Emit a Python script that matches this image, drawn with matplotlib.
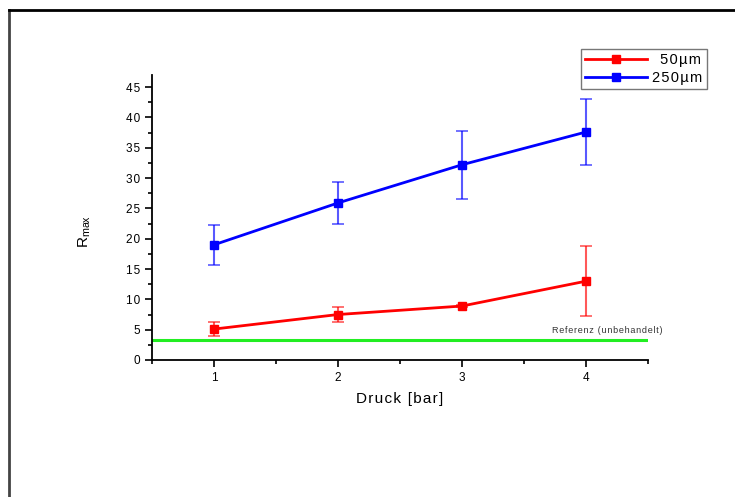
import matplotlib

matplotlib.use("Agg")
import matplotlib.pyplot as plt
from matplotlib.lines import Line2D
from matplotlib.ticker import FuncFormatter, MultipleLocator

plt.rcParams["font.family"] = ["Liberation Sans", "DejaVu Sans"]

# data
druck = [1, 2, 3, 4]
r_50 = [5.1, 7.5, 8.9, 13.0]
r_50_lo = [4.0, 6.2, 8.7, 7.3]
r_50_hi = [6.2, 8.7, 9.1, 18.8]
r_250 = [19.0, 25.9, 32.2, 37.6]
r_250_lo = [15.7, 22.4, 26.6, 32.1]
r_250_hi = [22.3, 29.3, 37.7, 43.0]
referenz = 3.3

W, H = 735, 497


def spaced(s):
    # the original software draws text with wide letter spacing
    return "\u200a".join(s)


fig = plt.figure(figsize=(W / 100, H / 100), dpi=100)
ax = fig.add_axes([152 / W, 1 - 360 / H, (648 - 152) / W, (360 - 75) / H])


def err(v, lo, hi):
    return [[a - b for a, b in zip(v, lo)], [b - a for a, b in zip(v, hi)]]


for y, lo, hi, col, lab in ((r_50, r_50_lo, r_50_hi, "#ff0000", "\u2007" + spaced("50µm")),
                            (r_250, r_250_lo, r_250_hi, "#0000ff", spaced("250µm"))):
    ax.errorbar(druck, y, yerr=err(y, lo, hi), fmt="none", ecolor=col,
                elinewidth=1.5, capsize=4, capthick=1.2, alpha=0.65, zorder=2)
    ax.plot(druck, y, "-s", color=col, lw=2, ms=6, label=lab, zorder=3)

ax.axhline(referenz, color="#22ee22", lw=2.2, zorder=1)
ax.text(4.17, referenz + 0.9, spaced("Referenz (unbehandelt)"), fontsize=6.5,
        ha="center", va="bottom", color="#333333", clip_on=False)

ax.set_xlim(0.5, 4.5)
ax.set_ylim(0, 47)
ax.xaxis.set_major_locator(MultipleLocator(1))
ax.xaxis.set_minor_locator(MultipleLocator(0.5))
ax.yaxis.set_major_locator(MultipleLocator(5))
ax.yaxis.set_minor_locator(MultipleLocator(2.5))
fmt = FuncFormatter(lambda v, p: spaced(f"{v:g}"))
ax.xaxis.set_major_formatter(fmt)
ax.yaxis.set_major_formatter(fmt)
ax.tick_params(which="major", direction="out", length=5, width=1.2, labelsize=8.5)
ax.tick_params(which="minor", direction="out", length=3, width=1.2)
for s in ("top", "right"):
    ax.spines[s].set_visible(False)
for s in ("left", "bottom"):
    ax.spines[s].set_linewidth(1.3)

ax.set_xlabel(spaced("Druck [bar]"), fontsize=11, labelpad=6)
ax.set_ylabel(r"R$_{\mathregular{max}}$", fontsize=11)
ax.yaxis.set_label_coords(-0.118, 0.45)

leg = ax.legend(loc="upper right", bbox_to_anchor=(707 / W, 1 - 49 / H),
                bbox_transform=fig.transFigure, fontsize=10.5, frameon=True,
                fancybox=False, handlelength=4.2, borderpad=0.3,
                labelspacing=0.25, handletextpad=0.4, borderaxespad=0)
leg.get_frame().set_edgecolor("#555555")
leg.get_frame().set_linewidth(1.0)

# outer frame, running off the right and bottom edges
fig.add_artist(Line2D([9 / W, 9 / W], [1 - 10 / H, 0], color="#444444", lw=2))
fig.add_artist(Line2D([9 / W, 1], [1 - 10 / H, 1 - 10 / H], color="black", lw=2))

fig.savefig("out.png", dpi=100)
